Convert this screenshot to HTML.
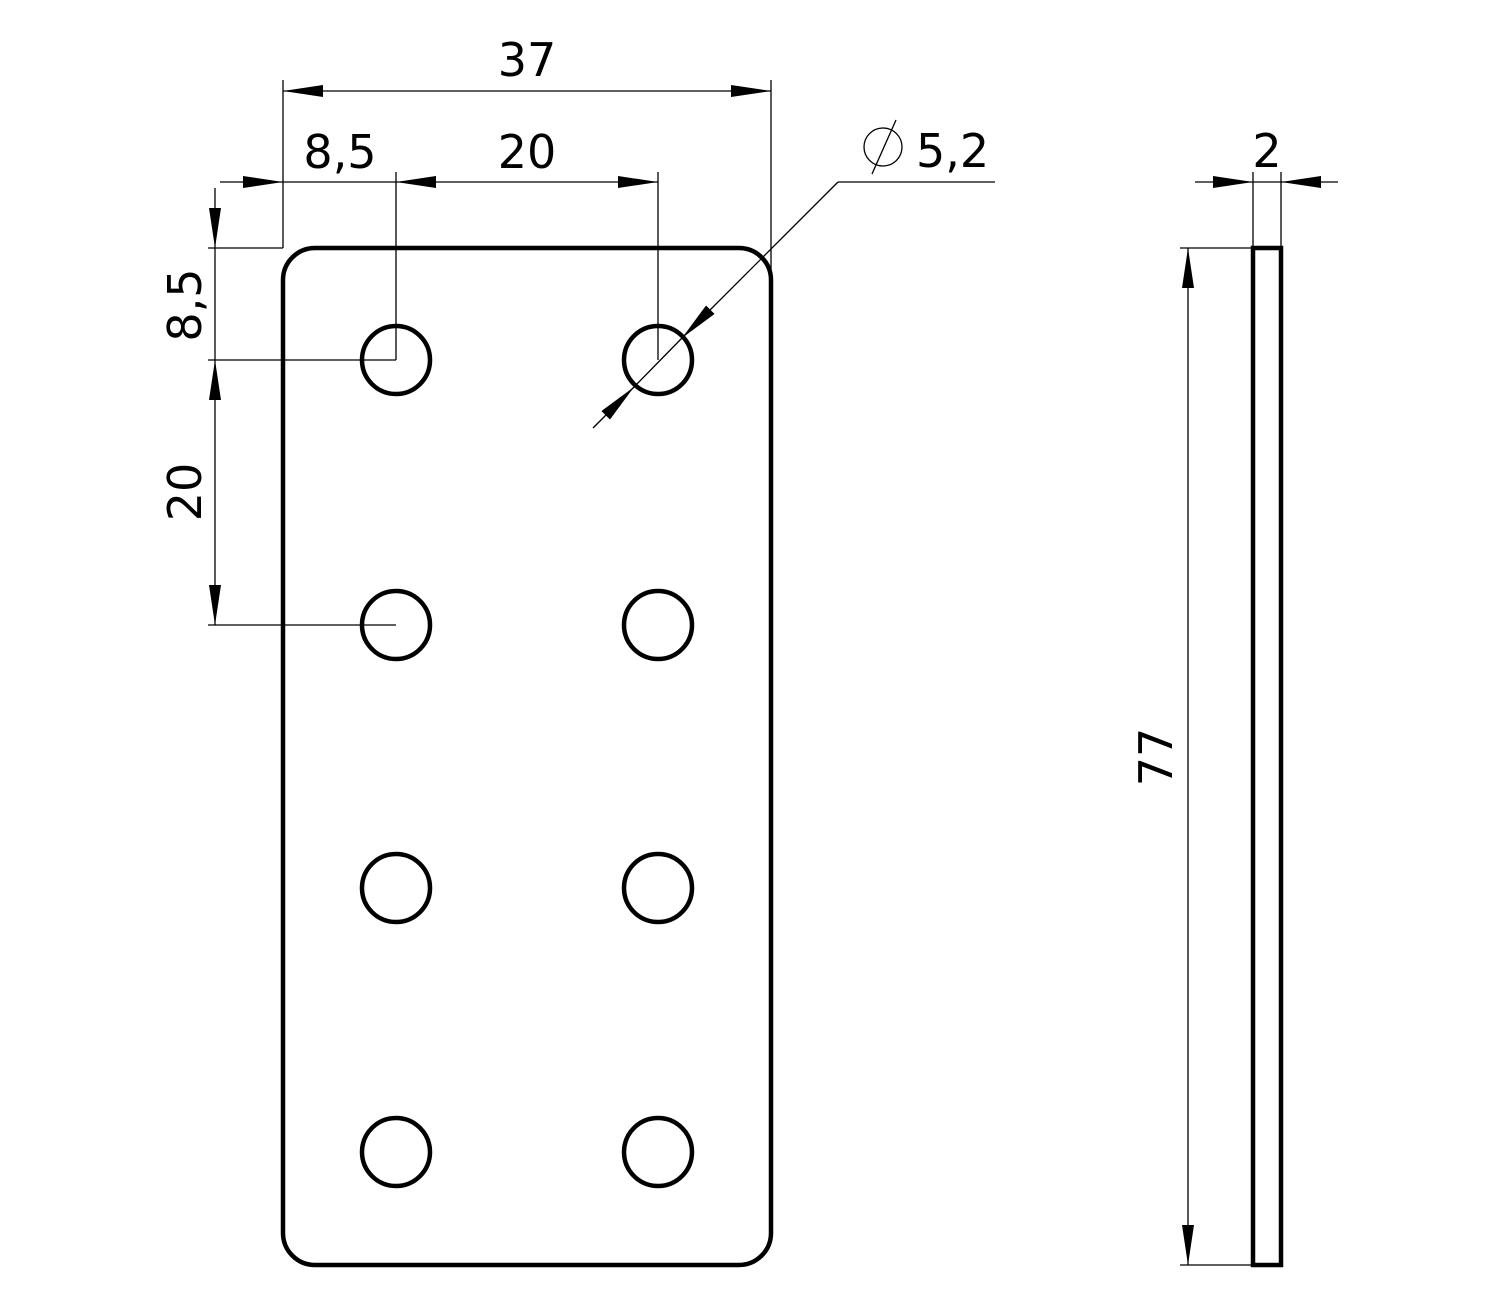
<!DOCTYPE html>
<html><head><style>body{margin:0;background:#fff}svg{display:block}text{font-family:"DejaVu Sans","Liberation Sans",sans-serif;font-size:46px;fill:#000}</style></head><body>
<svg width="1500" height="1300" viewBox="0 0 1500 1300" xmlns="http://www.w3.org/2000/svg">
<defs>
<marker id="a" viewBox="0 0 40 12" refX="40" refY="6" markerWidth="40" markerHeight="12" markerUnits="userSpaceOnUse" orient="auto-start-reverse"><path d="M0,0 L40,6 L0,12 z" fill="#000"/></marker>
</defs>
<g fill="none" stroke="#000" stroke-width="4.5">
<rect x="283" y="248" width="488" height="1017" rx="32"/>
<circle cx="396" cy="360" r="34"/><circle cx="658" cy="360" r="34"/>
<circle cx="396" cy="625" r="34"/><circle cx="658" cy="625" r="34"/>
<circle cx="396" cy="888" r="34"/><circle cx="658" cy="888" r="34"/>
<circle cx="396" cy="1152" r="34"/><circle cx="658" cy="1152" r="34"/>
<rect x="1253" y="248" width="28" height="1017"/>
</g>
<g fill="none" stroke="#000" stroke-width="1.3">
<line x1="283" y1="80" x2="283" y2="248"/><line x1="771" y1="80" x2="771" y2="270"/>
<line x1="283" y1="91" x2="771" y2="91" marker-start="url(#a)" marker-end="url(#a)"/>
<line x1="396" y1="172" x2="396" y2="360"/><line x1="658" y1="172" x2="658" y2="360"/>
<line x1="220" y1="182" x2="283" y2="182" marker-end="url(#a)"/>
<line x1="283" y1="182" x2="396" y2="182"/>
<line x1="396" y1="182" x2="658" y2="182" marker-start="url(#a)" marker-end="url(#a)"/>
<line x1="208" y1="248" x2="283" y2="248"/><line x1="208" y1="360" x2="396" y2="360"/><line x1="208" y1="625" x2="396" y2="625"/>
<line x1="215" y1="188" x2="215" y2="248" marker-end="url(#a)"/>
<line x1="215" y1="248" x2="215" y2="360"/>
<line x1="215" y1="360" x2="215" y2="625" marker-start="url(#a)" marker-end="url(#a)"/>
<line x1="838" y1="182" x2="682" y2="338" marker-end="url(#a)"/>
<line x1="593" y1="428" x2="634" y2="387" marker-end="url(#a)"/>
<line x1="634" y1="387" x2="682" y2="338"/>
<line x1="838" y1="182" x2="995" y2="182"/>
<line x1="1253" y1="172" x2="1253" y2="248"/><line x1="1281" y1="172" x2="1281" y2="248"/>
<line x1="1195" y1="182" x2="1253" y2="182" marker-end="url(#a)"/>
<line x1="1338" y1="182" x2="1281" y2="182" marker-end="url(#a)"/>
<line x1="1253" y1="182" x2="1281" y2="182"/>
<line x1="1180" y1="248" x2="1253" y2="248"/><line x1="1180" y1="1265" x2="1253" y2="1265"/>
<line x1="1188" y1="248" x2="1188" y2="1265" marker-start="url(#a)" marker-end="url(#a)"/>
<circle cx="883" cy="147" r="19"/><line x1="872" y1="174" x2="896" y2="120"/>
</g>
<text x="527" y="76" text-anchor="middle">37</text>
<text x="340" y="168" text-anchor="middle">8,5</text>
<text x="527" y="168" text-anchor="middle">20</text>
<text x="916" y="167">5,2</text>
<text x="1267" y="167" text-anchor="middle">2</text>
<text transform="translate(201,305) rotate(-90)" text-anchor="middle">8,5</text>
<text transform="translate(201,492) rotate(-90)" text-anchor="middle">20</text>
<text transform="translate(1172,757) rotate(-90)" text-anchor="middle">77</text>
</svg>
</body></html>
